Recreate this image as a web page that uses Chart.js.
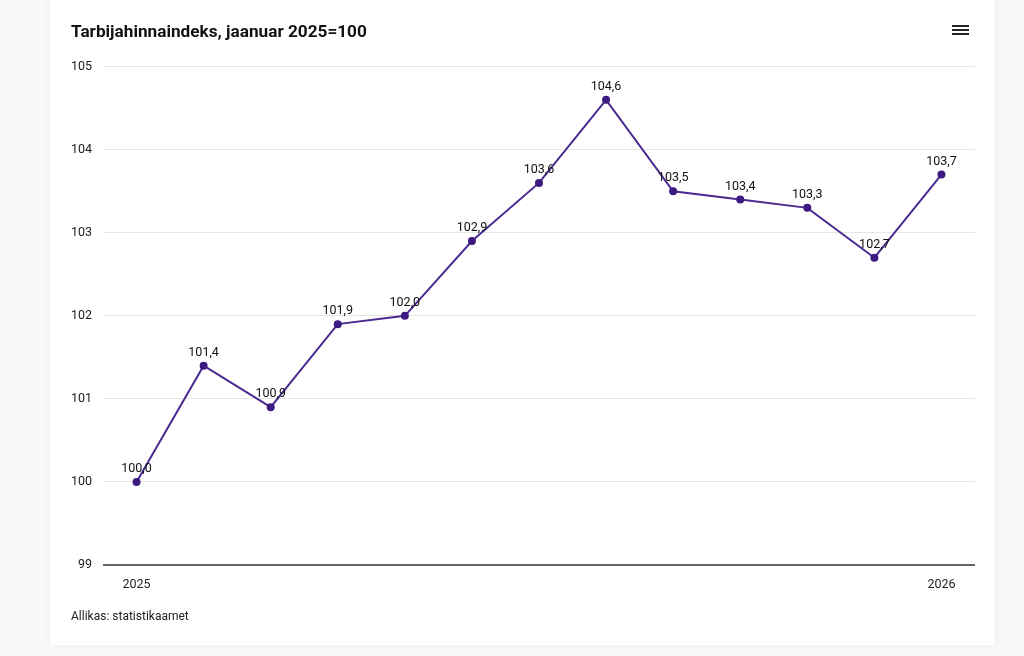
<!DOCTYPE html>
<html>
<head>
<meta charset="utf-8">
<script src="https://cdn.jsdelivr.net/npm/chart.js@4"></script>
<style>
  html, body { margin: 0; padding: 0; width: 1024px; height: 656px; overflow: hidden; background: #f9f9f9; font-family: Roboto, sans-serif; }
  #card { position: absolute; left: 50px; top: -10px; width: 945px; height: 655px; background: #fff; box-shadow: 0 0 8px rgba(0,0,0,0.06); }
  #wrap { position: absolute; left: 0; top: 0; width: 1024px; height: 656px; }
  #menu { position: absolute; left: 952px; top: 25px; width: 17px; }
  #menu div { height: 2px; background: #222; margin-bottom: 2px; }
  #source { position: absolute; left: 71px; top: 609px; font-size: 12px; color: #222; font-family: Roboto, sans-serif; }
</style>
</head>
<body>
<div id="card"></div>
<div id="wrap"><canvas id="c" width="1024" height="656"></canvas></div>
<div id="menu"><div></div><div></div><div></div></div>
<div id="source">Allikas: statistikaamet</div>
<script>
const categories = ["2025-01","2025-02","2025-03","2025-04","2025-05","2025-06","2025-07","2025-08","2025-09","2025-10","2025-11","2025-12","2026-01"];
const values = [100.0, 101.4, 100.9, 101.9, 102.0, 102.9, 103.6, 104.6, 103.5, 103.4, 103.3, 102.7, 103.7];
const yTicks = [99, 100, 101, 102, 103, 104, 105];
const titleText = "Tarbijahinnaindeks, jaanuar 2025=100";

const labelPlugin = {
  id: 'valLabels',
  afterDatasetsDraw(chart) {
    const ctx = chart.ctx;
    const meta = chart.getDatasetMeta(0);
    ctx.save();
    ctx.font = '12.5px Roboto';
    ctx.fillStyle = '#111';
    ctx.textAlign = 'center';
    ctx.textBaseline = 'middle';
    meta.data.forEach((pt, i) => {
      ctx.fillText(values[i].toFixed(1).replace('.', ','), pt.x, pt.y - 13);
    });
    ctx.restore();
  }
};

new Chart(document.getElementById('c'), {
  type: 'line',
  data: {
    labels: categories,
    datasets: [{
      data: values,
      borderColor: '#4b2a91',
      borderWidth: 2,
      pointBackgroundColor: '#3d1a80',
      pointBorderColor: '#3d1a80',
      pointRadius: 4,
      pointBorderWidth: 0,
      tension: 0,
      fill: false
    }]
  },
  options: {
    responsive: false,
    animation: false,
    devicePixelRatio: 1,
    layout: { padding: { left: 71, right: 49, top: 0, bottom: 52 } },
    plugins: {
      legend: { display: false },
      tooltip: { enabled: false },
      title: {
        display: true,
        text: titleText,
        align: 'start',
        color: '#111',
        font: { family: 'Roboto', size: 17.2, weight: 'bold' },
        padding: { top: 22, bottom: 24 }
      }
    },
    scales: {
      x: {
        offset: true,
        grid: { display: false, drawTicks: false },
        border: { display: false },
        ticks: {
          autoSkip: false,
          maxRotation: 0,
          padding: 12,
          color: '#222',
          font: { family: 'Roboto', size: 12.5 },
          callback: function(v, i) {
            const c = categories[i];
            return c.endsWith('-01') ? c.slice(0, 4) : '';
          }
        }
      },
      y: {
        min: yTicks[0],
        max: yTicks[yTicks.length - 1],
        afterBuildTicks: (axis) => { axis.ticks = yTicks.map(v => ({ value: v })); },
        afterFit: (axis) => { axis.width = 32; },
        grid: {
          drawTicks: false,
          color: (ctx) => ctx.tick && ctx.tick.value === yTicks[0] ? '#666' : '#e6e6e6',
          lineWidth: (ctx) => ctx.tick && ctx.tick.value === yTicks[0] ? 2 : 1
        },
        border: { display: false },
        ticks: {
          padding: 11,
          color: '#222',
          font: { family: 'Roboto', size: 12.5 }
        }
      }
    }
  },
  plugins: [labelPlugin]
});
</script>
</body>
</html>
